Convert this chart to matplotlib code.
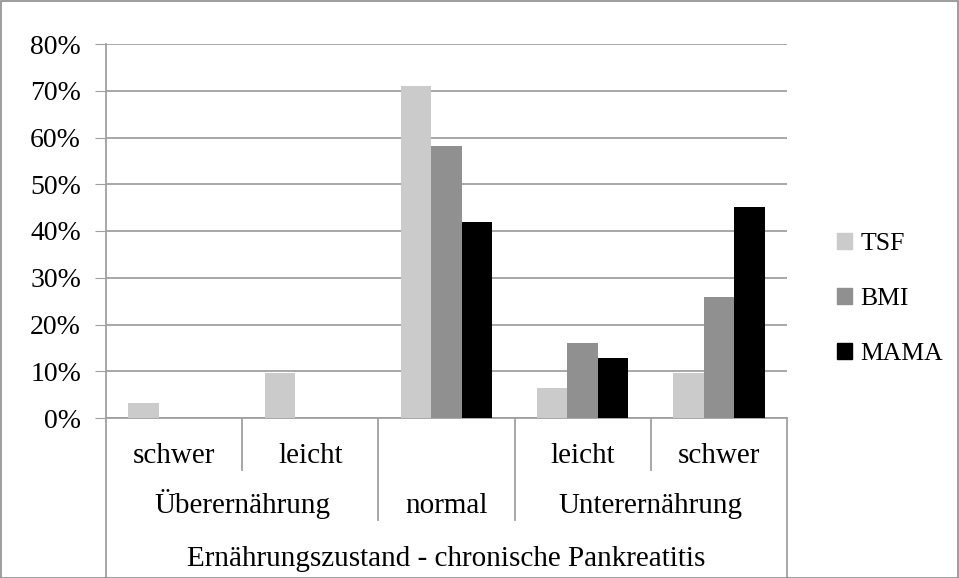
import matplotlib
matplotlib.use("Agg")
import matplotlib.pyplot as plt
import matplotlib.transforms as mtransforms
from matplotlib.patches import Rectangle, Patch
from matplotlib.ticker import FuncFormatter
import numpy as np

plt.rcParams['font.family'] = ['Liberation Serif', 'DejaVu Serif']

# data (percent)
sub_labels = ["schwer", "leicht", "", "leicht", "schwer"]
group_labels = ["Überernährung", "normal", "Unterernährung"]
group_spans = [(0, 1), (2, 2), (3, 4)]
axis_title = "Ernährungszustand - chronische Pankreatitis"
series = ["TSF", "BMI", "MAMA"]
tsf = [3.2, 9.7, 71.0, 6.5, 9.7]
bmi = [0.0, 0.0, 58.1, 16.1, 25.8]
mama = [0.0, 0.0, 41.9, 12.9, 45.2]
colors = ["#cbcbcb", "#909090", "#000000"]

W, H = 959, 578
fig = plt.figure(figsize=(W / 100, H / 100), dpi=100)
ax = fig.add_axes([106 / W, (H - 418) / H, (787 - 106) / W, (418 - 44) / H])

x = np.arange(len(sub_labels))
bw = 0.224
for i, (vals, c) in enumerate(zip([tsf, bmi, mama], colors)):
    ax.bar(x + (i - 1) * bw, vals, bw, color=c, zorder=3, label=series[i])

ax.set_xlim(-0.5, 4.5)
ax.set_ylim(0, 80)
ax.set_yticks(range(0, 81, 10))
ax.yaxis.set_major_formatter(FuncFormatter(lambda v, p: f"{int(v)}%"))
ax.tick_params(axis='y', length=8, color='#a0a0a0', labelsize=20, pad=10)
ax.set_xticks([])
ax.grid(axis='y', color='#a0a0a0', lw=1.3, zorder=0)
for s in ['top', 'right']:
    ax.spines[s].set_visible(False)
for s in ['left', 'bottom']:
    ax.spines[s].set_color('#a0a0a0')
    ax.spines[s].set_linewidth(1.3)

# multi-level category axis
trans = mtransforms.blended_transform_factory(ax.transData, ax.transAxes)
ah = 418 - 44
def yf(px):
    return (418 - px) / ah

lk = dict(color='#a0a0a0', lw=1.3, transform=trans, clip_on=False)
ax.plot([-0.5, -0.5], [0, yf(578)], **lk)
ax.plot([4.5, 4.5], [0, yf(578)], **lk)
ax.plot([0.5, 0.5], [0, yf(470)], **lk)
ax.plot([3.5, 3.5], [0, yf(470)], **lk)
ax.plot([1.5, 1.5], [0, yf(520)], **lk)
ax.plot([2.5, 2.5], [0, yf(520)], **lk)

tk = dict(transform=trans, ha='center', va='baseline', fontsize=21)
for xi, lab in zip(x, sub_labels):
    ax.text(xi, yf(463), lab, **tk)
for (a, b), lab in zip(group_spans, group_labels):
    ax.text((a + b) / 2, yf(513), lab, **tk)
ax.text(2, yf(566), axis_title, **tk)

handles = [Patch(color=c) for c in colors]
fig.legend(handles, series, loc='center left', bbox_to_anchor=(837 / W, 1 - 299 / H),
           frameon=False, fontsize=18.5, handlelength=0.6, handleheight=0.6,
           handletextpad=0.3, labelspacing=1.28, borderpad=0, borderaxespad=0)

fig.patches.append(Rectangle((0.5 / W, 0), 1 - 1.5 / W, 1 - 1 / H, transform=fig.transFigure,
                             fill=False, ec='#8c8c8c', lw=1.2))

fig.savefig("out.png", dpi=100)
